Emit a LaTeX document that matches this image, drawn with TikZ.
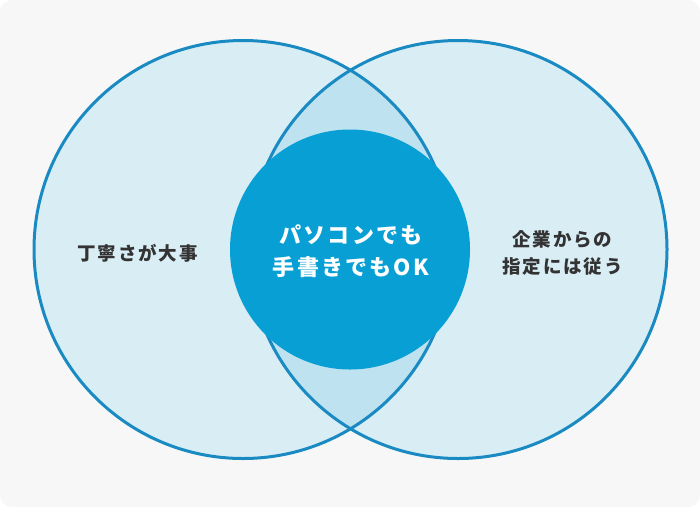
\documentclass[tikz,border=0pt]{standalone}
\usepackage{fontspec}
\newfontfamily\jp{Noto Sans CJK JP}[LetterSpace=10]
\definecolor{bgc}{HTML}{F7F7F7}
\definecolor{lightc}{HTML}{D9EDF5}
\definecolor{lensc}{HTML}{BEE2F0}
\definecolor{ringc}{HTML}{1A8AC2}
\definecolor{centerc}{HTML}{08A0D4}
\definecolor{textc}{HTML}{333333}
\begin{document}
\begin{tikzpicture}[x=1pt,y=-1pt,
  ring/.style={draw=ringc, line width=3pt},
  sidetext/.style={font=\jp\bfseries\fontsize{18.5}{27}\selectfont, text=textc, align=center, inner sep=0pt},
  midtext/.style={font=\jp\bfseries\fontsize{22}{31.5}\selectfont, text=white, align=center, inner sep=0pt}]
\useasboundingbox (0,0) rectangle (700,507);
\fill[white] (0,0) rectangle (700,507);
\fill[bgc, rounded corners=12pt] (0,0) rectangle (700,507);
\coordinate (L) at (243,249.5);
\coordinate (R) at (458,249.5);
\fill[lightc] (L) circle (209pt);
\fill[lightc] (R) circle (209pt);
\begin{scope}
  \clip (L) circle (209pt);
  \fill[lensc] (R) circle (209pt);
\end{scope}
\draw[ring] (L) circle (209pt);
\draw[ring] (R) circle (209pt);
\node[circle, fill=centerc, minimum size=240pt, inner sep=0pt] (C) at (350,249.5) {};
\node[midtext] (ct) at (351,251) {パソコンでも\\手書きでもOK};
\node[sidetext] (lt) at (137.5,253) {丁寧さが大事};
\node[sidetext] (rt) at (562.5,252.5) {企業からの\\指定には従う};
\end{tikzpicture}
\end{document}
